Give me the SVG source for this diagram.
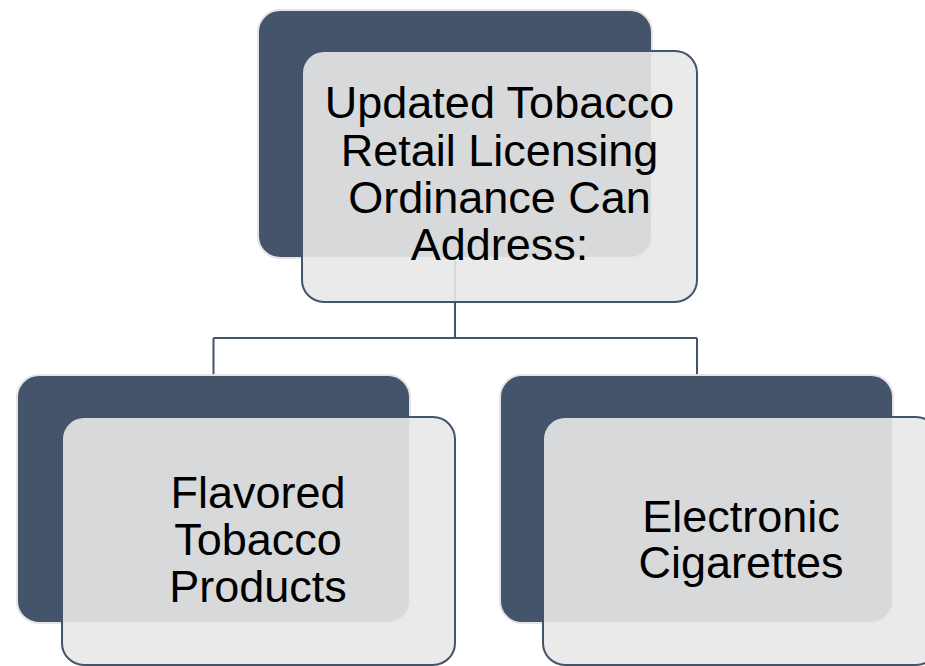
<svg xmlns="http://www.w3.org/2000/svg" width="925" height="666" viewBox="0 0 925 666">
<style>
.back{fill:#44546A;stroke:#E4E4E4;stroke-width:2}
.front{fill:#E8E8E8;fill-opacity:0.9;stroke:#44546A;stroke-width:2}
.conn{fill:none;stroke:#44546A;stroke-width:2}
.lbl{font-family:"Liberation Sans",Arial,sans-serif;font-size:45px;fill:#000;text-anchor:middle}
</style>
<rect width="925" height="666" fill="#FFFFFF"/>
<g id="connectors">
<path class="conn" d="M455,258 V338 M213.5,338 H697 M213.5,338 V375 M697,338 V375"/>
</g>
<g id="node-top">
<rect class="back" x="258" y="10" width="394" height="248" rx="22"/>
<rect class="front" x="302" y="51" width="395" height="251" rx="22"/>
<text class="lbl" x="499.5" y="118">Updated Tobacco</text>
<text class="lbl" x="499.5" y="165.5">Retail Licensing</text>
<text class="lbl" x="499.5" y="213">Ordinance Can</text>
<text class="lbl" x="499.5" y="260">Address:</text>
</g>
<g id="node-flavored">
<rect class="back" x="17" y="375" width="393" height="248" rx="22"/>
<rect class="front" x="62" y="417" width="393" height="248" rx="22"/>
<text class="lbl" x="258" y="508">Flavored</text>
<text class="lbl" x="258" y="555">Tobacco</text>
<text class="lbl" x="258" y="602">Products</text>
</g>
<g id="node-ecig">
<rect class="back" x="500" y="375" width="393" height="248" rx="22"/>
<rect class="front" x="543" y="417" width="395" height="248" rx="22"/>
<text class="lbl" x="741" y="532">Electronic</text>
<text class="lbl" x="741" y="578">Cigarettes</text>
</g>
</svg>
